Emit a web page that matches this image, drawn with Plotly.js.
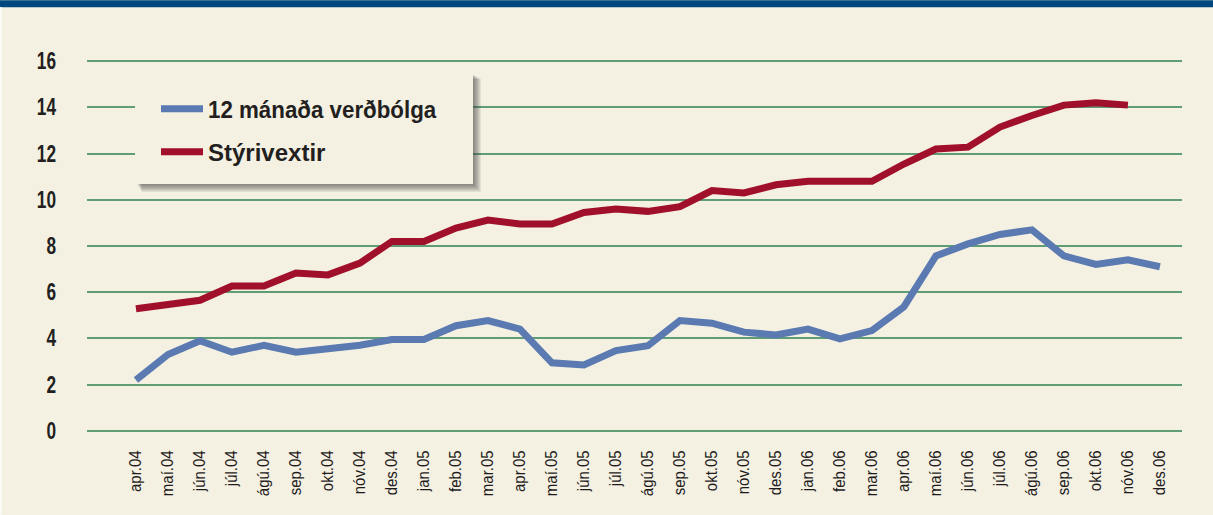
<!DOCTYPE html>
<html>
<head>
<meta charset="utf-8">
<script src="https://cdn.plot.ly/plotly-3.0.1.min.js"></script>
<style>
  html, body { margin: 0; padding: 0; background: #F4F1E3; }
  #chart { width: 1213px; height: 515px; }
</style>
</head>
<body>
<div id="chart"></div>
<script>
const months = ["apr.04","maí.04","jún.04","júl.04","ágú.04","sep.04","okt.04","nóv.04","des.04",
  "jan.05","feb.05","mar.05","apr.05","maí.05","jún.05","júl.05","ágú.05","sep.05","okt.05","nóv.05","des.05",
  "jan.06","feb.06","mar.06","apr.06","maí.06","jún.06","júl.06","ágú.06","sep.06","okt.06","nóv.06","des.06"];

const inflation = [2.2, 3.3, 3.9, 3.4, 3.7, 3.4, 3.55, 3.7, 3.95,
  3.95, 4.55, 4.77, 4.4, 2.94, 2.85, 3.47, 3.68, 4.77, 4.66, 4.27, 4.15,
  4.4, 3.98, 4.34, 5.37, 7.57, 8.09, 8.5, 8.7, 7.57, 7.2, 7.4, 7.1];

const policyRate = [5.28, 5.5, 5.65, 6.27, 6.27, 6.83, 6.75, 7.26, 8.2,
  8.2, 8.78, 9.12, 8.95, 8.95, 9.45, 9.6, 9.5, 9.7, 10.4, 10.3, 10.65,
  10.8, 10.8, 10.8, 11.55, 12.2, 12.28, 13.15, 13.65, 14.1, 14.2, 14.1];

const seriesNames = ["12 mánaða verðbólga", "Stýrivextir"];
const yTicks = [0, 2, 4, 6, 8, 10, 12, 14, 16];

const W = 1213, H = 515;
const M = { l: 87, r: 31, t: 51.75, b: 74.75 };
const pw = W - M.l - M.r, ph = H - M.t - M.b;
const px2x = p => (p - M.l) / pw;
const px2y = p => (H - M.b - p) / ph;

const bg = "#F4F1E3";
const sans = "'Liberation Sans', Arial, sans-serif";

const traces = [
  { x: months, y: inflation, name: seriesNames[0], type: "scatter", mode: "lines",
    line: { color: "#5A7AB1", width: 7 }, legend: "legend" },
  { x: months.slice(0, policyRate.length), y: policyRate, name: seriesNames[1], type: "scatter", mode: "lines",
    line: { color: "#A1102B", width: 7 }, legend: "legend2" }
];

function rect(x0, y0, x1, y1, fill, opacity) {
  return { type: "rect", xref: "paper", yref: "paper",
    x0: px2x(x0), x1: px2x(x1), y0: px2y(y1), y1: px2y(y0),
    fillcolor: fill, opacity: opacity === undefined ? 1 : opacity,
    line: { width: 0 }, layer: "above" };
}

const shapes = [];
shapes.push(rect(0, 0, W, 7, "#00477F"));
shapes.push(rect(0, 7, 2, H, "#FBFAF4"));
const bx0 = 135, by0 = 73, bx1 = 473, by1 = 184;
for (let i = 1; i <= 8; i++) {
  shapes.push(rect(bx0 + 2 + i * 0.6, by0 + 1 + i * 0.6, bx1 + i, by1 + i, "#444444", 0.1));
}
shapes.push(rect(bx0, by0, bx1, by1, "#F4F1E3"));

const legendFont = { family: sans, size: 24, weight: 700, color: "#231F20" };

const layout = {
  width: W, height: H,
  margin: M,
  paper_bgcolor: bg,
  plot_bgcolor: bg,
  showlegend: true,
  legend: { x: px2x(156), y: px2y(109), xanchor: "left", yanchor: "middle",
    bgcolor: "rgba(0,0,0,0)", borderwidth: 0, font: legendFont, itemwidth: 42 },
  legend2: { x: px2x(156), y: px2y(152), xanchor: "left", yanchor: "middle",
    bgcolor: "rgba(0,0,0,0)", borderwidth: 0, font: legendFont, itemwidth: 42 },
  xaxis: {
    type: "category",
    range: [-1.53, 32.69],
    showgrid: false, zeroline: false, showline: false,
    ticks: "",
    tickangle: -90,
    tickfont: { family: sans, size: 17, color: "#1F1B1C" },
    ticklabelstandoff: 6
  },
  yaxis: {
    range: [-0.4, 16.4],
    tickvals: yTicks,
    ticktext: yTicks.map(String),
    showgrid: true, gridcolor: "#5F9D75", gridwidth: 2,
    zeroline: false, showline: false, ticks: "",
    tickfont: { family: sans, size: 23, weight: 700, color: "#231F20" },
    ticklabelstandoff: 30
  },
  shapes: shapes
};

function condense(nodes, ratio) {
  nodes.forEach(t => {
    const L = t.getComputedTextLength();
    t.setAttribute("textLength", (L * ratio).toFixed(2));
    t.setAttribute("lengthAdjust", "spacingAndGlyphs");
  });
}

Plotly.newPlot("chart", traces, layout, { displayModeBar: false, staticPlot: true }).then(gd => {
  condense(gd.querySelectorAll(".legendtext"), 0.93);
  condense(gd.querySelectorAll(".ytick text"), 0.75);
  condense(gd.querySelectorAll(".xtick text"), 0.88);
});
</script>
</body>
</html>
